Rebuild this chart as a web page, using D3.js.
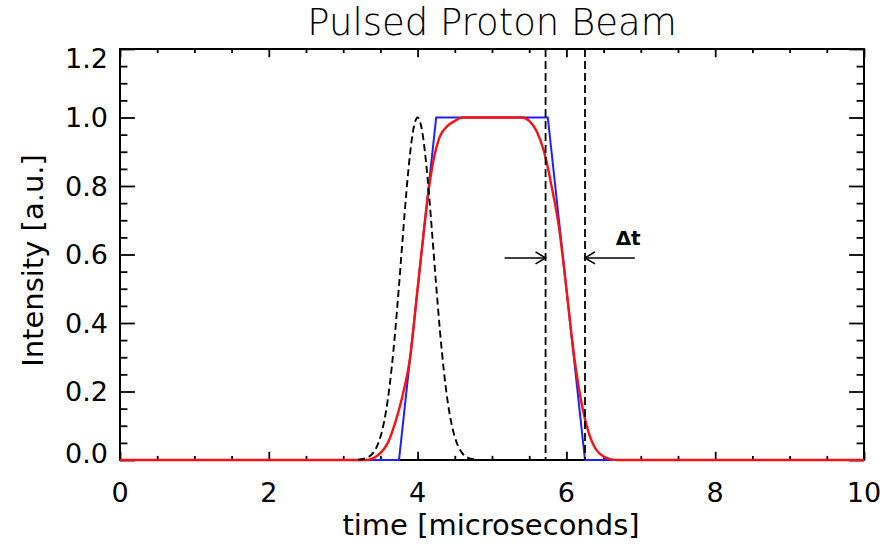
<!DOCTYPE html>
<html>
<head>
<meta charset="utf-8">
<script src="https://cdn.jsdelivr.net/npm/d3@7"></script>
<style>
  html, body { margin: 0; padding: 0; background: #fff; }
  svg { display: block; }
  text { font-family: "DejaVu Sans", sans-serif; fill: #000; }
</style>
</head>
<body>
<svg id="chart" width="884" height="546"></svg>
<script>
// Square (trapezoidal) beam pulse
const squareTime = [0, 3.75, 4.25, 5.75, 6.25, 10];
const squareIntensity = [0, 0, 1, 1, 0, 0];

// Smoothed beam pulse
const smoothTime = [0, 3.3, 3.4, 3.5, 3.6, 3.7, 3.8, 3.9, 4.0, 4.1, 4.15, 4.2, 4.25, 4.3, 4.4, 4.5, 4.6,
                    5.4, 5.5, 5.6, 5.7, 5.75, 5.8, 5.9, 6.0, 6.1, 6.2, 6.3, 6.4, 6.5, 6.6, 6.7, 10];
const smoothIntensity = [0, 0, 0.005, 0.02, 0.05, 0.11, 0.19, 0.30, 0.50, 0.70, 0.79, 0.86, 0.91, 0.945, 0.975, 0.99, 1.0,
                         1.0, 0.99, 0.96, 0.90, 0.855, 0.80, 0.68, 0.50, 0.31, 0.17, 0.08, 0.03, 0.01, 0.002, 0, 0];

// Short reference pulse (dashed)
const shortTime = [3.2, 3.3, 3.4, 3.45, 3.5, 3.55, 3.6, 3.65, 3.7, 3.75, 3.8, 3.85, 3.9, 3.95, 4.0,
                   4.05, 4.1, 4.15, 4.2, 4.25, 4.3, 4.35, 4.4, 4.45, 4.5, 4.55, 4.6, 4.7, 4.8];
const shortIntensity = [0.001, 0.005, 0.02, 0.038, 0.067, 0.112, 0.177, 0.266, 0.378, 0.509, 0.649, 0.784, 0.897, 0.973, 1.0,
                        0.973, 0.897, 0.784, 0.649, 0.509, 0.378, 0.266, 0.177, 0.112, 0.067, 0.038, 0.02, 0.005, 0.001];

// Δt markers
const markerTimes = [5.72, 6.25];
const arrowTails = [5.17, 6.92];
const arrowLevel = 0.59;
const deltaLabel = "Δt";
const deltaLabelPos = [6.83, 0.628];

// Axes
const xMajorTicks = [0, 2, 4, 6, 8, 10];
const yMajorTicks = [0, 0.2, 0.4, 0.6, 0.8, 1.0, 1.2];
const titleText = "Pulsed Proton Beam";
const xTitle = "time [microseconds]";
const yTitle = "Intensity [a.u.]";

const svg = d3.select("#chart");
const plotLeft = 120, plotRight = 864, plotTop = 49, plotBottom = 460;
const x = d3.scaleLinear().domain([0, 10]).range([plotLeft, plotRight]);
const y = d3.scaleLinear().domain([0, 1.2]).range([plotBottom, plotTop]);
const plotW = plotRight - plotLeft, plotH = plotBottom - plotTop;

// Tick lengths (inward on all four sides)
const xTickLen = 0.02 * plotH, yTickLen = 0.02 * plotW;
const xMinor = d3.range(0, 10.001, 0.5).filter(v => !xMajorTicks.some(m => Math.abs(m - v) < 1e-6));
const yMinor = d3.range(0, 1.2001, 0.05).filter(v => !yMajorTicks.some(m => Math.abs(m - v) < 1e-6));

const axes = svg.append("g");
function tickGroup(axisFn, scale, values, len, tx, ty) {
  axes.append("g").attr("transform", `translate(${tx},${ty})`)
    .call(axisFn(scale).tickValues(values).tickSize(len).tickFormat(""))
    .call(g => g.select(".domain").remove());
}
tickGroup(d3.axisTop, x, xMajorTicks, xTickLen, 0, plotBottom);
tickGroup(d3.axisTop, x, xMinor, xTickLen / 2, 0, plotBottom);
tickGroup(d3.axisBottom, x, xMajorTicks, xTickLen, 0, plotTop);
tickGroup(d3.axisBottom, x, xMinor, xTickLen / 2, 0, plotTop);
tickGroup(d3.axisRight, y, yMajorTicks, yTickLen, plotLeft, 0);
tickGroup(d3.axisRight, y, yMinor, yTickLen / 2, plotLeft, 0);
tickGroup(d3.axisLeft, y, yMajorTicks, yTickLen, plotRight, 0);
tickGroup(d3.axisLeft, y, yMinor, yTickLen / 2, plotRight, 0);
axes.selectAll("line").attr("stroke", "#000").attr("stroke-width", 1.8);

axes.append("rect")
  .attr("x", plotLeft).attr("y", plotTop).attr("width", plotW).attr("height", plotH)
  .attr("fill", "none").attr("stroke", "#000").attr("stroke-width", 2);

// Tick labels
svg.append("g").selectAll("text").data(xMajorTicks).join("text")
  .attr("x", d => x(d)).attr("y", 502)
  .attr("text-anchor", "middle").attr("font-size", 27)
  .text(d => d3.format("d")(d));

svg.append("g").selectAll("text").data(yMajorTicks).join("text")
  .attr("x", plotLeft - 12)
  .attr("y", d => Math.max(plotTop + 9, Math.min(plotBottom - 7, y(d))))
  .attr("dy", "0.36em")
  .attr("text-anchor", "end").attr("font-size", 27)
  .text(d => d3.format(".1f")(d));

// Titles
svg.append("text").attr("x", (plotLeft + plotRight) / 2).attr("y", 35)
  .attr("text-anchor", "middle").attr("font-size", 37).attr("font-weight", 300)
  .text(titleText);
svg.append("text").attr("x", (plotLeft + plotRight) / 2 - 1).attr("y", 535)
  .attr("text-anchor", "middle").attr("font-size", 29)
  .text(xTitle);
svg.append("text").attr("transform", `translate(43,${(plotTop + plotBottom) / 2 + 6}) rotate(-90)`)
  .attr("text-anchor", "middle").attr("font-size", 29)
  .text(yTitle);

// Curves
const line = d3.line().x(d => x(d[0])).y(d => y(d[1]));
const smoothLine = d3.line().x(d => x(d[0])).y(d => y(d[1])).curve(d3.curveMonotoneX);

svg.append("path").datum(d3.zip(squareTime, squareIntensity))
  .attr("d", line).attr("fill", "none").attr("stroke", "#1f1fff").attr("stroke-width", 2);

svg.append("path").datum(d3.zip(smoothTime, smoothIntensity))
  .attr("d", smoothLine).attr("fill", "none").attr("stroke", "#ff1010").attr("stroke-width", 2.4);

svg.append("path").datum(d3.zip(shortTime, shortIntensity))
  .attr("d", smoothLine).attr("fill", "none").attr("stroke", "#000")
  .attr("stroke-width", 1.9).attr("stroke-dasharray", "7,4");

// Vertical markers
svg.append("g").selectAll("line").data(markerTimes).join("line")
  .attr("x1", d => x(d)).attr("x2", d => x(d))
  .attr("y1", plotTop).attr("y2", plotBottom)
  .attr("stroke", "#000").attr("stroke-width", 1.8).attr("stroke-dasharray", "8,4");

// Arrows pointing at the markers
const arrows = svg.append("g").attr("stroke", "#000").attr("stroke-width", 1.6).attr("fill", "none");
markerTimes.forEach((m, i) => {
  const tip = x(m), tail = x(arrowTails[i]), yy = y(arrowLevel);
  const dir = Math.sign(tip - tail);
  arrows.append("line").attr("x1", tail).attr("x2", tip).attr("y1", yy).attr("y2", yy);
  arrows.append("path")
    .attr("d", `M${tip - dir * 10},${yy - 6}L${tip},${yy}L${tip - dir * 10},${yy + 6}`);
});

svg.append("text").attr("x", x(deltaLabelPos[0])).attr("y", y(deltaLabelPos[1]))
  .attr("text-anchor", "middle").attr("font-size", 20).attr("font-weight", "bold")
  .attr("font-family", "Liberation Sans, Arial, sans-serif")
  .text(deltaLabel);
</script>
</body>
</html>
